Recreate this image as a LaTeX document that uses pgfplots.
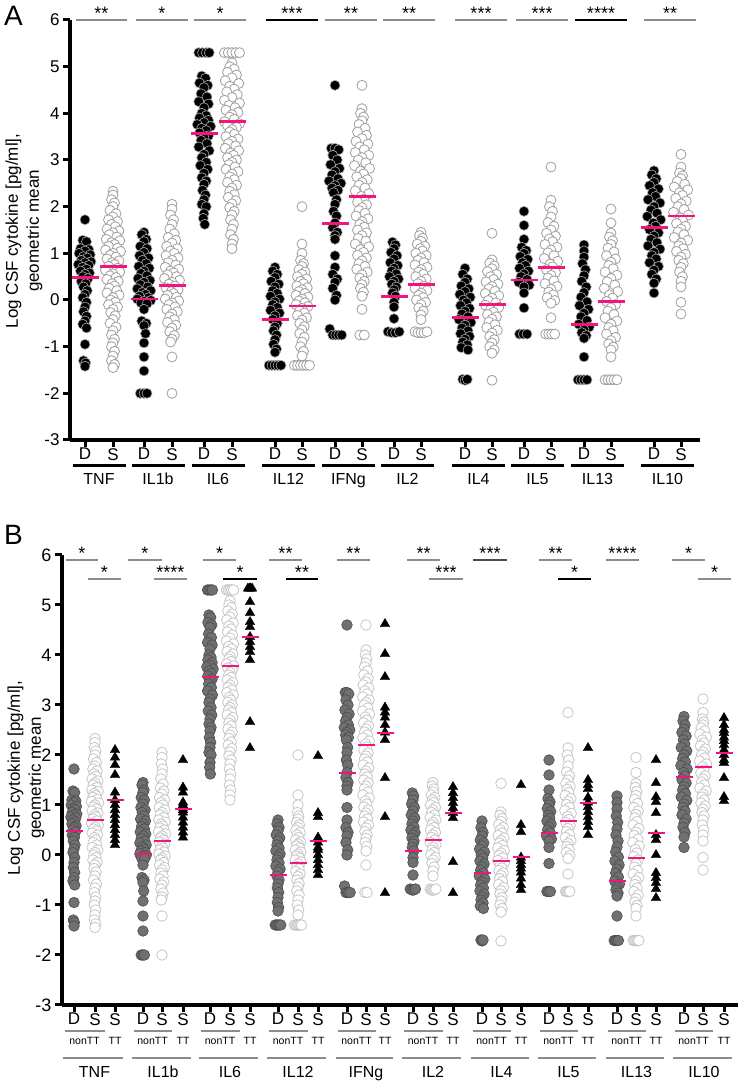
\documentclass[border=0pt]{standalone}
\usepackage{pgfplots}
\pgfplotsset{compat=1.18}
\usepackage{pgfplotstable}
\usepackage{fontspec}
\setmainfont{Liberation Sans}
\definecolor{mag}{RGB}{245,20,125}
\definecolor{dgray}{RGB}{112,112,112}
\definecolor{bargray}{RGB}{140,140,140}

% ---------- D (diseased) groups: dx = horizontal jitter, y = log value
\pgfplotstableread[row sep=\\]{dx y\\0 1.72\\-3 1.28\\2 1.25\\-6 1.1\\5 1.08\\0 1.05\\-8 1.0\\7 0.97\\-2 0.93\\3 0.9\\-5 0.85\\8 0.82\\0 0.8\\-9 0.76\\5 0.74\\-3 0.7\\2 0.66\\-6 0.62\\6 0.58\\0 0.55\\-3 0.5\\4 0.46\\-5 0.4\\1 0.35\\-2 0.28\\3 0.2\\0 0.12\\-3 0.05\\2 -0.05\\0 -0.15\\-2 -0.25\\2 -0.35\\0 -0.45\\-3 -0.52\\2 -0.6\\0 -0.95\\-2 -1.3\\1 -1.35\\0 -1.42\\}\tnfD
\pgfplotstableread[row sep=\\]{dx y\\0 1.45\\-3 1.4\\3 1.3\\0 1.25\\-5 1.15\\4 1.1\\0 1.02\\-6 0.95\\6 0.9\\-2 0.85\\3 0.78\\-7 0.72\\7 0.68\\0 0.62\\-4 0.57\\4 0.52\\-8 0.46\\8 0.42\\0 0.38\\-5 0.33\\5 0.28\\-9 0.24\\9 0.2\\-2 0.16\\2 0.12\\-6 0.08\\6 0.05\\-9 0.02\\9 -0.01\\0 -0.03\\-4 -0.06\\4 -0.08\\0 -0.2\\-3 -0.45\\3 -0.5\\0 -0.55\\2 -0.72\\0 -0.92\\0 -1.22\\0 -1.52\\-5 -2.0\\0 -2.0\\4 -2.0\\}\ilbD
\pgfplotstableread[row sep=\\]{dx y\\-7 5.3\\-2 5.3\\3 5.3\\7 5.3\\-3 4.8\\2 4.75\\-6 4.65\\5 4.6\\0 4.55\\-4 4.42\\4 4.35\\-7 4.25\\6 4.2\\0 4.12\\-3 4.0\\3 3.95\\-6 3.9\\6 3.85\\0 3.8\\-9 3.76\\9 3.72\\-3 3.68\\3 3.63\\-6 3.58\\6 3.52\\0 3.48\\-4 3.42\\4 3.35\\-7 3.28\\7 3.2\\0 3.12\\-3 3.05\\3 2.95\\-5 2.88\\5 2.8\\0 2.72\\-3 2.62\\3 2.55\\0 2.48\\-2 2.35\\2 2.25\\0 2.15\\-3 2.05\\3 2.0\\0 1.85\\-1 1.75\\1 1.62\\}\ilsixD
\pgfplotstableread[row sep=\\]{dx y\\0 0.7\\-3 0.62\\3 0.55\\0 0.48\\-5 0.4\\5 0.34\\0 0.28\\-3 0.2\\3 0.14\\-6 0.08\\6 0.02\\0 -0.04\\-3 -0.1\\3 -0.16\\-6 -0.22\\6 -0.28\\0 -0.34\\-3 -0.42\\3 -0.5\\0 -0.58\\-2 -0.66\\2 -0.75\\0 -0.85\\-2 -0.95\\2 -1.05\\0 -1.12\\-8 -1.4\\-4 -1.4\\0 -1.4\\4 -1.4\\8 -1.4\\}\iltwD
\pgfplotstableread[row sep=\\]{dx y\\0 4.6\\-5 3.25\\0 3.25\\5 3.22\\-3 3.1\\3 3.0\\-6 2.9\\6 2.82\\0 2.75\\-4 2.68\\4 2.6\\-8 2.55\\8 2.5\\0 2.45\\-4 2.4\\4 2.35\\-2 2.3\\2 2.15\\0 2.05\\-2 1.9\\2 1.8\\0 1.65\\-3 1.55\\3 1.45\\0 1.38\\0 1.3\\0 0.95\\0 0.7\\-3 0.55\\3 0.45\\0 0.38\\-3 0.25\\2 0.1\\0 0.0\\-7 -0.62\\-3 -0.75\\1 -0.75\\5 -0.75\\9 -0.75\\}\ifnD
\pgfplotstableread[row sep=\\]{dx y\\-2 1.24\\2 1.18\\0 1.1\\-4 1.02\\4 0.95\\0 0.88\\-5 0.8\\5 0.74\\0 0.68\\-3 0.62\\3 0.56\\-6 0.5\\6 0.45\\0 0.4\\-3 0.34\\3 0.28\\0 0.22\\-2 0.15\\2 0.08\\0 -0.05\\0 -0.15\\0 -0.4\\-8 -0.68\\-3 -0.7\\2 -0.7\\7 -0.68\\}\iltD
\pgfplotstableread[row sep=\\]{dx y\\0 0.68\\-3 0.55\\3 0.45\\0 0.38\\-5 0.3\\5 0.24\\0 0.18\\-7 0.12\\7 0.06\\-2 0.0\\2 -0.06\\-6 -0.12\\6 -0.18\\0 -0.24\\-4 -0.3\\4 -0.36\\-8 -0.42\\8 -0.48\\0 -0.54\\-4 -0.6\\4 -0.66\\-6 -0.72\\6 -0.78\\0 -0.84\\-3 -0.9\\3 -0.96\\-5 -1.02\\4 -1.07\\-3 -1.7\\0 -1.72\\3 -1.7\\}\ilfD
\pgfplotstableread[row sep=\\]{dx y\\0 1.9\\0 1.6\\0 1.3\\-3 1.13\\3 1.06\\0 1.0\\-5 0.93\\5 0.87\\-2 0.8\\2 0.74\\-6 0.68\\6 0.62\\0 0.56\\-4 0.5\\4 0.44\\-7 0.38\\7 0.32\\0 0.28\\0 0.15\\0 -0.17\\-6 -0.73\\-1 -0.73\\4 -0.73\\}\ilvD
\pgfplotstableread[row sep=\\]{dx y\\0 1.18\\0 1.05\\0 0.92\\-2 0.78\\2 0.65\\0 0.52\\-3 0.4\\3 0.28\\0 0.16\\-4 0.06\\4 -0.04\\-6 -0.12\\6 -0.2\\0 -0.28\\-4 -0.36\\4 -0.44\\-7 -0.52\\7 -0.58\\0 -0.64\\-3 -0.7\\3 -0.76\\0 -0.82\\0 -1.22\\-8 -1.71\\-4 -1.71\\0 -1.71\\4 -1.71\\}\ilthD
\pgfplotstableread[row sep=\\]{dx y\\0 2.77\\-3 2.68\\3 2.6\\0 2.52\\-6 2.45\\6 2.38\\-2 2.3\\2 2.22\\-8 2.15\\8 2.08\\0 2.0\\-4 1.93\\4 1.86\\-9 1.79\\9 1.72\\-1 1.65\\2 1.58\\-6 1.51\\6 1.44\\0 1.37\\-4 1.3\\4 1.23\\-8 1.16\\8 1.09\\0 1.02\\-3 0.95\\3 0.88\\-6 0.8\\6 0.72\\0 0.64\\-3 0.55\\3 0.45\\0 0.36\\0 0.15\\}\iltenD

% ---------- S groups
\pgfplotstableread[row sep=\\]{dx y\\0 2.33\\0 2.25\\-2 2.15\\2 2.08\\0 2.0\\-4 1.92\\4 1.85\\0 1.78\\-6 1.72\\6 1.68\\-2 1.62\\3 1.57\\-8 1.52\\8 1.48\\0 1.44\\-5 1.4\\5 1.35\\-9 1.3\\9 1.27\\-2 1.23\\2 1.19\\-6 1.15\\6 1.11\\-10 1.07\\10 1.04\\0 1.0\\-4 0.96\\4 0.92\\-8 0.88\\8 0.84\\-1 0.8\\2 0.76\\-6 0.72\\6 0.68\\-10 0.64\\9 0.6\\0 0.56\\-4 0.52\\4 0.48\\-8 0.44\\7 0.4\\-1 0.35\\2 0.3\\-5 0.25\\5 0.2\\-8 0.15\\8 0.1\\0 0.05\\-3 0.0\\3 -0.05\\-6 -0.1\\6 -0.15\\0 -0.2\\-3 -0.27\\3 -0.34\\0 -0.42\\-4 -0.5\\4 -0.58\\0 -0.66\\-2 -0.75\\2 -0.84\\0 -0.92\\-2 -1.0\\2 -1.1\\0 -1.2\\-2 -1.3\\2 -1.38\\0 -1.45\\}\tnfS
\pgfplotstableread[row sep=\\]{dx y\\0 2.05\\0 1.95\\-2 1.82\\2 1.72\\0 1.62\\-3 1.52\\3 1.42\\-5 1.34\\5 1.28\\0 1.22\\-7 1.15\\7 1.1\\-2 1.05\\3 1.0\\-8 0.95\\8 0.9\\0 0.85\\-5 0.8\\5 0.75\\-9 0.7\\9 0.66\\-2 0.62\\2 0.58\\-6 0.54\\6 0.5\\-10 0.46\\10 0.42\\0 0.38\\-4 0.34\\4 0.3\\-8 0.26\\8 0.22\\-1 0.18\\2 0.14\\-6 0.1\\6 0.06\\-9 0.02\\9 -0.02\\0 -0.06\\-4 -0.1\\4 -0.15\\-7 -0.2\\7 -0.25\\0 -0.3\\-3 -0.36\\3 -0.42\\-6 -0.48\\5 -0.54\\0 -0.6\\-3 -0.68\\3 -0.76\\0 -0.84\\-2 -0.9\\0 -1.22\\0 -2.0\\}\ilbS
\pgfplotstableread[row sep=\\]{dx y\\-10 5.3\\-5 5.3\\0 5.3\\5 5.3\\10 5.3\\0 5.08\\-3 5.0\\3 4.95\\-6 4.88\\6 4.82\\0 4.76\\-9 4.7\\9 4.64\\-3 4.58\\3 4.52\\-7 4.46\\7 4.4\\0 4.34\\-10 4.28\\10 4.22\\-4 4.17\\4 4.12\\-8 4.07\\8 4.02\\0 3.97\\-3 3.92\\3 3.87\\-10 3.82\\10 3.78\\-6 3.74\\6 3.7\\0 3.65\\-3 3.6\\3 3.55\\-8 3.5\\8 3.45\\0 3.4\\-5 3.35\\5 3.3\\-9 3.25\\9 3.2\\-2 3.15\\2 3.1\\-6 3.05\\6 3.0\\0 2.95\\-4 2.9\\4 2.85\\-8 2.8\\8 2.75\\0 2.7\\-3 2.64\\3 2.58\\-6 2.52\\6 2.46\\0 2.4\\-3 2.33\\3 2.26\\-5 2.2\\5 2.13\\0 2.06\\-3 1.98\\3 1.9\\0 1.82\\-2 1.72\\2 1.62\\0 1.52\\-2 1.4\\2 1.3\\0 1.2\\0 1.1\\}\ilsixS
\pgfplotstableread[row sep=\\]{dx y\\0 2.0\\0 1.2\\0 1.0\\-2 0.85\\2 0.78\\0 0.72\\-4 0.65\\4 0.6\\0 0.55\\-6 0.5\\6 0.45\\-2 0.4\\2 0.35\\-7 0.3\\7 0.26\\0 0.22\\-4 0.18\\4 0.14\\-8 0.1\\8 0.06\\0 0.02\\-4 -0.02\\4 -0.06\\-8 -0.1\\8 -0.14\\0 -0.18\\-3 -0.23\\3 -0.28\\-6 -0.33\\6 -0.38\\0 -0.43\\-3 -0.5\\3 -0.57\\0 -0.64\\-3 -0.72\\3 -0.8\\0 -0.9\\-2 -1.0\\2 -1.1\\0 -1.2\\-10 -1.4\\-6 -1.4\\-2 -1.4\\2 -1.4\\6 -1.4\\10 -1.4\\}\iltwS
\pgfplotstableread[row sep=\\]{dx y\\0 4.6\\0 4.1\\-2 4.0\\2 3.92\\0 3.84\\-4 3.76\\4 3.68\\-6 3.6\\6 3.53\\0 3.46\\-8 3.4\\8 3.34\\-3 3.28\\3 3.22\\-9 3.16\\9 3.1\\0 3.05\\-5 3.0\\5 2.94\\-10 2.88\\10 2.82\\-2 2.76\\2 2.7\\-7 2.64\\7 2.58\\0 2.52\\-4 2.46\\4 2.4\\-9 2.34\\9 2.28\\-1 2.22\\2 2.16\\-6 2.1\\6 2.04\\0 1.98\\-4 1.92\\4 1.86\\-8 1.8\\8 1.74\\0 1.68\\-3 1.62\\3 1.56\\-6 1.5\\6 1.44\\0 1.38\\-5 1.32\\5 1.26\\-9 1.2\\9 1.14\\-2 1.08\\2 1.02\\-6 0.96\\6 0.9\\0 0.84\\-4 0.78\\4 0.72\\-7 0.66\\7 0.6\\0 0.54\\-3 0.47\\3 0.4\\0 0.33\\-2 0.25\\2 0.17\\0 0.08\\0 -0.2\\-3 -0.75\\3 -0.75\\}\ifnS
\pgfplotstableread[row sep=\\]{dx y\\0 1.45\\-2 1.38\\2 1.32\\0 1.26\\-5 1.2\\5 1.15\\-1 1.1\\2 1.05\\-7 1.0\\7 0.95\\0 0.9\\-4 0.85\\4 0.8\\-8 0.75\\8 0.7\\0 0.65\\-3 0.6\\3 0.55\\-7 0.5\\7 0.45\\0 0.4\\-4 0.35\\4 0.3\\-8 0.25\\8 0.2\\0 0.15\\-3 0.1\\3 0.05\\-6 0.0\\6 -0.05\\0 -0.1\\-3 -0.17\\3 -0.24\\0 -0.32\\0 -0.42\\-8 -0.68\\-4 -0.7\\0 -0.7\\4 -0.7\\8 -0.68\\}\iltS
\pgfplotstableread[row sep=\\]{dx y\\0 1.43\\0 0.86\\-3 0.79\\3 0.73\\0 0.67\\-6 0.61\\6 0.55\\-2 0.5\\2 0.44\\-8 0.39\\8 0.34\\0 0.29\\-4 0.24\\4 0.19\\-9 0.14\\9 0.09\\0 0.04\\-5 -0.01\\5 -0.06\\-9 -0.11\\9 -0.16\\-2 -0.21\\2 -0.26\\-6 -0.31\\6 -0.36\\0 -0.41\\-4 -0.47\\4 -0.53\\-7 -0.59\\7 -0.65\\0 -0.71\\-3 -0.78\\3 -0.85\\0 -0.92\\-3 -1.0\\3 -1.07\\0 -1.14\\0 -1.72\\}\ilfS
\pgfplotstableread[row sep=\\]{dx y\\0 2.85\\0 2.14\\-2 2.0\\2 1.9\\0 1.78\\-4 1.66\\4 1.58\\0 1.5\\-6 1.43\\6 1.37\\-2 1.31\\2 1.25\\-8 1.19\\8 1.13\\0 1.07\\-4 1.01\\4 0.95\\-9 0.89\\9 0.83\\-1 0.77\\2 0.71\\-6 0.65\\6 0.59\\0 0.53\\-4 0.47\\4 0.41\\-8 0.35\\8 0.29\\0 0.23\\-3 0.17\\3 0.11\\-5 0.05\\5 -0.01\\0 -0.07\\0 -0.38\\-7 -0.73\\-3 -0.73\\1 -0.73\\5 -0.73\\}\ilvS
\pgfplotstableread[row sep=\\]{dx y\\0 1.95\\0 1.65\\0 1.43\\-2 1.35\\2 1.27\\0 1.19\\-4 1.11\\4 1.03\\-6 0.95\\6 0.88\\0 0.81\\-3 0.74\\3 0.67\\-8 0.6\\8 0.53\\0 0.46\\-5 0.39\\5 0.32\\-9 0.25\\9 0.18\\-2 0.11\\2 0.04\\-6 -0.03\\6 -0.1\\0 -0.17\\-4 -0.24\\4 -0.31\\-8 -0.38\\8 -0.45\\0 -0.52\\-3 -0.59\\3 -0.66\\-6 -0.73\\6 -0.8\\0 -0.87\\-3 -0.94\\3 -1.01\\0 -1.07\\0 -1.22\\-8 -1.71\\-4 -1.71\\0 -1.71\\4 -1.71\\8 -1.71\\}\ilthS
\pgfplotstableread[row sep=\\]{dx y\\0 3.12\\0 2.85\\-2 2.72\\2 2.66\\0 2.6\\-5 2.54\\5 2.48\\-9 2.42\\9 2.36\\-2 2.3\\2 2.24\\-7 2.18\\7 2.12\\0 2.06\\-4 2.0\\4 1.94\\-10 1.88\\10 1.82\\-1 1.76\\2 1.7\\-6 1.64\\6 1.58\\0 1.52\\-4 1.46\\4 1.4\\-9 1.34\\9 1.28\\0 1.22\\-3 1.16\\3 1.1\\-6 1.04\\6 0.98\\0 0.92\\-3 0.85\\3 0.78\\0 0.7\\-2 0.6\\2 0.5\\0 0.4\\0 0.28\\0 -0.05\\0 -0.3\\}\iltenS

% ---------- TT groups (panel B only)
\pgfplotstableread[row sep=\\]{dx y\\0 2.1\\0 1.95\\0 1.8\\0 1.6\\0 1.25\\0 1.1\\0 1.0\\0 0.9\\0 0.8\\0 0.7\\0 0.6\\0 0.5\\0 0.4\\0 0.3\\0 0.2\\}\tnfT
\pgfplotstableread[row sep=\\]{dx y\\0 1.9\\0 1.35\\0 1.25\\0 1.05\\0 1.0\\0 0.95\\0 0.9\\0 0.85\\0 0.75\\0 0.65\\0 0.55\\0 0.45\\0 0.35\\}\ilbT
\pgfplotstableread[row sep=\\]{dx y\\-6 5.33\\-2 5.33\\2 5.33\\6 5.33\\0 5.06\\0 4.84\\0 4.66\\0 4.56\\0 4.36\\0 4.26\\0 4.16\\0 4.06\\0 3.9\\0 2.66\\0 2.14\\}\ilsixT
\pgfplotstableread[row sep=\\]{dx y\\0 1.98\\0 0.84\\0 0.76\\0 0.35\\0 0.25\\0 0.15\\0 0.1\\0 0.0\\0 -0.1\\0 -0.2\\0 -0.3\\0 -0.4\\}\iltwT
\pgfplotstableread[row sep=\\]{dx y\\0 4.62\\0 4.02\\0 3.56\\0 2.95\\0 2.85\\0 2.75\\0 2.6\\0 2.45\\0 2.3\\0 1.54\\0 0.76\\0 -0.76\\}\ifnT
\pgfplotstableread[row sep=\\]{dx y\\0 1.36\\0 1.24\\0 1.14\\0 1.04\\0 0.94\\0 0.84\\0 0.74\\0 -0.14\\0 -0.76\\}\iltT
\pgfplotstableread[row sep=\\]{dx y\\0 1.4\\0 0.6\\0 0.46\\0 -0.05\\0 -0.12\\0 -0.2\\0 -0.27\\0 -0.35\\0 -0.47\\0 -0.6\\0 -0.7\\}\ilfT
\pgfplotstableread[row sep=\\]{dx y\\0 2.14\\0 1.5\\0 1.4\\0 1.32\\0 1.15\\0 1.05\\0 0.96\\0 0.86\\0 0.76\\0 0.66\\0 0.56\\0 0.4\\}\ilvT
\pgfplotstableread[row sep=\\]{dx y\\0 1.9\\0 1.44\\0 1.16\\0 1.06\\0 0.84\\0 0.4\\0 0.3\\0 0.0\\0 -0.36\\0 -0.46\\0 -0.56\\0 -0.68\\0 -0.86\\}\ilthT
\pgfplotstableread[row sep=\\]{dx y\\0 2.74\\0 2.6\\0 2.5\\0 2.44\\0 2.35\\0 2.28\\0 2.2\\0 2.1\\0 2.0\\0 1.9\\0 1.84\\0 1.54\\0 1.16\\0 1.08\\}\iltenT

\pgfplotsset{
  Ad/.style={only marks, mark=*, mark size=5pt, mark options={fill=black, draw=gray!65, line width=0.6pt}},
  As/.style={only marks, mark=*, mark size=5pt, mark options={fill=white, draw=gray!75, line width=0.8pt}},
  Bd/.style={only marks, mark=*, mark size=5.3pt, mark options={fill=dgray, draw=black!70, line width=0.6pt}},
  Bs/.style={only marks, mark=*, mark size=5.3pt, mark options={fill=white, draw=gray!45, line width=0.8pt}},
  Bt/.style={only marks, mark=triangle*, mark size=5.5pt, mark options={fill=black, draw=black, line width=0.4pt}},
  Am/.style={only marks, color=mag, mark=-, mark size=13.5pt, mark options={draw=mag, line width=2.8pt}},
  Bm/.style={only marks, color=mag, mark=-, mark size=8.5pt, mark options={draw=mag, line width=2pt}},
  base/.style={scale only axis, clip=false, ymin=-3, ymax=6, ytick={-3,-2,-1,0,1,2,3,4,5,6},
    axis x line=bottom, axis y line=left, axis line style={-, line width=4.5pt},
    every tick/.style={black, line width=3pt}, major tick length=7pt, tick align=outside,
    minor tick num=0, /pgf/number format/assume math mode=true,
    yticklabel style={font=\fontsize{17}{17}\selectfont},
    xticklabel style={font=\fontsize{17}{17}\selectfont, inner sep=1pt}},
}
\newcommand{\pA}[3]{\addplot[#1] table[x expr=0.75*\thisrow{dx}+#3, y=y]{#2};}
\newcommand{\pB}[3]{\addplot[#1] table[x expr=0.35*\thisrow{dx}+#3, y=y]{#2};}

\begin{document}
\begin{tikzpicture}[x=1pt, y=1pt]
\useasboundingbox (0pt,0pt) rectangle (740pt,1081pt);

% ================= Panel A =================
\begin{axis}[base, at={(70pt,641pt)}, anchor=south west, width=630pt, height=420pt,
  xmin=70, xmax=700,
  xtick={85,113,144,172,204,232,275,302,335,362,394,421,465,492,524,551,584,611,654,681},
  xticklabels={D,S,D,S,D,S,D,S,D,S,D,S,D,S,D,S,D,S,D,S}]
\pA{Ad}{\tnfD}{85}   \pA{As}{\tnfS}{113}
\pA{Ad}{\ilbD}{144}  \pA{As}{\ilbS}{172}
\pA{Ad}{\ilsixD}{204} \pA{As}{\ilsixS}{232}
\pA{Ad}{\iltwD}{275} \pA{As}{\iltwS}{302}
\pA{Ad}{\ifnD}{335}  \pA{As}{\ifnS}{362}
\pA{Ad}{\iltD}{394}  \pA{As}{\iltS}{421}
\pA{Ad}{\ilfD}{465}  \pA{As}{\ilfS}{492}
\pA{Ad}{\ilvD}{524}  \pA{As}{\ilvS}{551}
\pA{Ad}{\ilthD}{584} \pA{As}{\ilthS}{611}
\pA{Ad}{\iltenD}{654} \pA{As}{\iltenS}{681}
\addplot[Am] coordinates {(85,0.48)(113,0.72)(144,0.02)(172,0.31)(204,3.56)(232,3.83)(275,-0.41)(302,-0.13)(335,1.64)(362,2.21)(394,0.08)(421,0.33)(465,-0.38)(492,-0.1)(524,0.43)(551,0.7)(584,-0.52)(611,-0.03)(654,1.56)(681,1.8)};
\end{axis}

% ================= Panel B =================
\begin{axis}[base, at={(62pt,76pt)}, anchor=south west, width=676pt, height=450pt,
  xmin=62, xmax=738,
  xtick={74,95,115,143,162,183,210,230,250,278,298,318,347,366,385,413,433,453,482,501,521,549,568,588,617,636,656,684,703,724},
  xticklabels={D,S,S,D,S,S,D,S,S,D,S,S,D,S,S,D,S,S,D,S,S,D,S,S,D,S,S,D,S,S},
  yticklabel style={font=\fontsize{18}{18}\selectfont}]
\pB{Bd}{\tnfD}{74}    \pB{Bs}{\tnfS}{95}    \pB{Bt}{\tnfT}{115}
\pB{Bd}{\ilbD}{143}   \pB{Bs}{\ilbS}{162}   \pB{Bt}{\ilbT}{183}
\pB{Bd}{\ilsixD}{210} \pB{Bs}{\ilsixS}{230} \pB{Bt}{\ilsixT}{250}
\pB{Bd}{\iltwD}{278}  \pB{Bs}{\iltwS}{298}  \pB{Bt}{\iltwT}{318}
\pB{Bd}{\ifnD}{347}   \pB{Bs}{\ifnS}{366}   \pB{Bt}{\ifnT}{385}
\pB{Bd}{\iltD}{413}   \pB{Bs}{\iltS}{433}   \pB{Bt}{\iltT}{453}
\pB{Bd}{\ilfD}{482}   \pB{Bs}{\ilfS}{501}   \pB{Bt}{\ilfT}{521}
\pB{Bd}{\ilvD}{549}   \pB{Bs}{\ilvS}{568}   \pB{Bt}{\ilvT}{588}
\pB{Bd}{\ilthD}{617}  \pB{Bs}{\ilthS}{636}  \pB{Bt}{\ilthT}{656}
\pB{Bd}{\iltenD}{684} \pB{Bs}{\iltenS}{703} \pB{Bt}{\iltenT}{724}
\addplot[Bm] coordinates {(74,0.48)(95,0.7)(115,1.1)(143,0.02)(162,0.27)(183,0.92)(210,3.55)(230,3.78)(250,4.36)(278,-0.4)(298,-0.16)(318,0.27)(347,1.64)(366,2.2)(385,2.44)(413,0.07)(433,0.3)(453,0.84)(482,-0.37)(501,-0.12)(521,-0.05)(549,0.43)(568,0.68)(588,1.04)(617,-0.53)(636,-0.07)(656,0.44)(684,1.55)(703,1.76)(724,2.04)};
\end{axis}

% ---------- panel letters and y labels
\node[anchor=base west, inner sep=0, font=\fontsize{28}{28}\selectfont] at (4pt,1055pt) {A};
\node[anchor=base west, inner sep=0, font=\fontsize{28}{28}\selectfont] at (4pt,536pt) {B};
\node[rotate=90, align=center, font=\fontsize{17}{21}\selectfont] at (24pt,850pt) {Log CSF cytokine [pg/ml],\\geometric mean};
\node[rotate=90, align=center, font=\fontsize{17}{21}\selectfont] at (26pt,303pt) {Log CSF cytokine [pg/ml],\\geometric mean};

% ---------- panel A group lines and names
\foreach \cx/\nm in {99/TNF,158/IL1b,218/IL6,288.5/IL12,348.5/IFNg,407.5/IL2,478.5/IL4,537.5/IL5,597.5/IL13,667.5/IL10}{
  \draw[black, line width=3pt] ({\cx-26.5},{1081-466}) -- ({\cx+26.5},{1081-466});
  \node[anchor=base, inner sep=0, font=\fontsize{16}{16}\selectfont] at (\cx,{1081-485}) {\nm};
}
% ---------- panel A significance bars
\foreach \xa/\xb/\st/\col in {76/127/**/bargray,136/188/*/bargray,194/246/*/bargray,266/318/***/black,325/377/**/bargray,383/435/**/bargray,455/507/***/bargray,516/568/***/bargray,575/627/****/black,644/696/**/bargray}{
  \draw[\col, line width=1.5pt] (\xa,{1081-20}) -- (\xb,{1081-20});
  \node[anchor=base, inner sep=0, font=\fontsize{18}{18}\selectfont] at ({(\xa+\xb)/2},{1081-20}) {\st};
}

% ---------- panel B group lines and names
\foreach \dd/\ss/\tt/\nm in {74/95/115/TNF,143/162/183/IL1b,210/230/250/IL6,278/298/318/IL12,347/366/385/IFNg,413/433/453/IL2,482/501/521/IL4,549/568/588/IL5,617/636/656/IL13,684/703/724/IL10}{
  \draw[bargray, line width=1.3pt] ({\dd-9},{1081-1031}) -- ({\ss+10},{1081-1031});
  \node[anchor=base, inner sep=0, font=\fontsize{10.5}{11}\selectfont] at ({(\dd+\ss)/2},{1081-1045}) {nonTT};
  \node[anchor=base, inner sep=0, font=\fontsize{10.5}{11}\selectfont] at (\tt,{1081-1045}) {TT};
  \draw[bargray, line width=1.3pt] ({\dd-11},{1081-1058}) -- ({\tt+8},{1081-1058});
  \node[anchor=base, inner sep=0, font=\fontsize{16}{16}\selectfont] at ({(\dd+\tt)/2},{1081-1077}) {\nm};
}
% ---------- panel B significance bars (upper row)
\foreach \xa/\xb/\st/\col in {66/98/*/bargray,128/162/*/bargray,203/236/*/bargray,269/302/**/bargray,337/370/**/bargray,407/440/**/bargray,473/507/***/black!70,539/572/**/bargray,606/639/****/bargray,672/705/*/bargray}{
  \draw[\col, line width=1.5pt] (\xa,{1081-560}) -- (\xb,{1081-560});
  \node[anchor=base, inner sep=0, font=\fontsize{18}{18}\selectfont] at ({(\xa+\xb)/2},{1081-560}) {\st};
}
% ---------- panel B significance bars (lower row)
\foreach \xa/\xb/\st/\col in {88/121/*/bargray,154/187/****/bargray,223/257/*/black,286/318/**/black,429/463/***/bargray,558/591/*/black,698/731/*/bargray}{
  \draw[\col, line width=1.5pt] (\xa,{1081-579}) -- (\xb,{1081-579});
  \node[anchor=base, inner sep=0, font=\fontsize{18}{18}\selectfont] at ({(\xa+\xb)/2},{1081-579}) {\st};
}
\end{tikzpicture}
\end{document}
